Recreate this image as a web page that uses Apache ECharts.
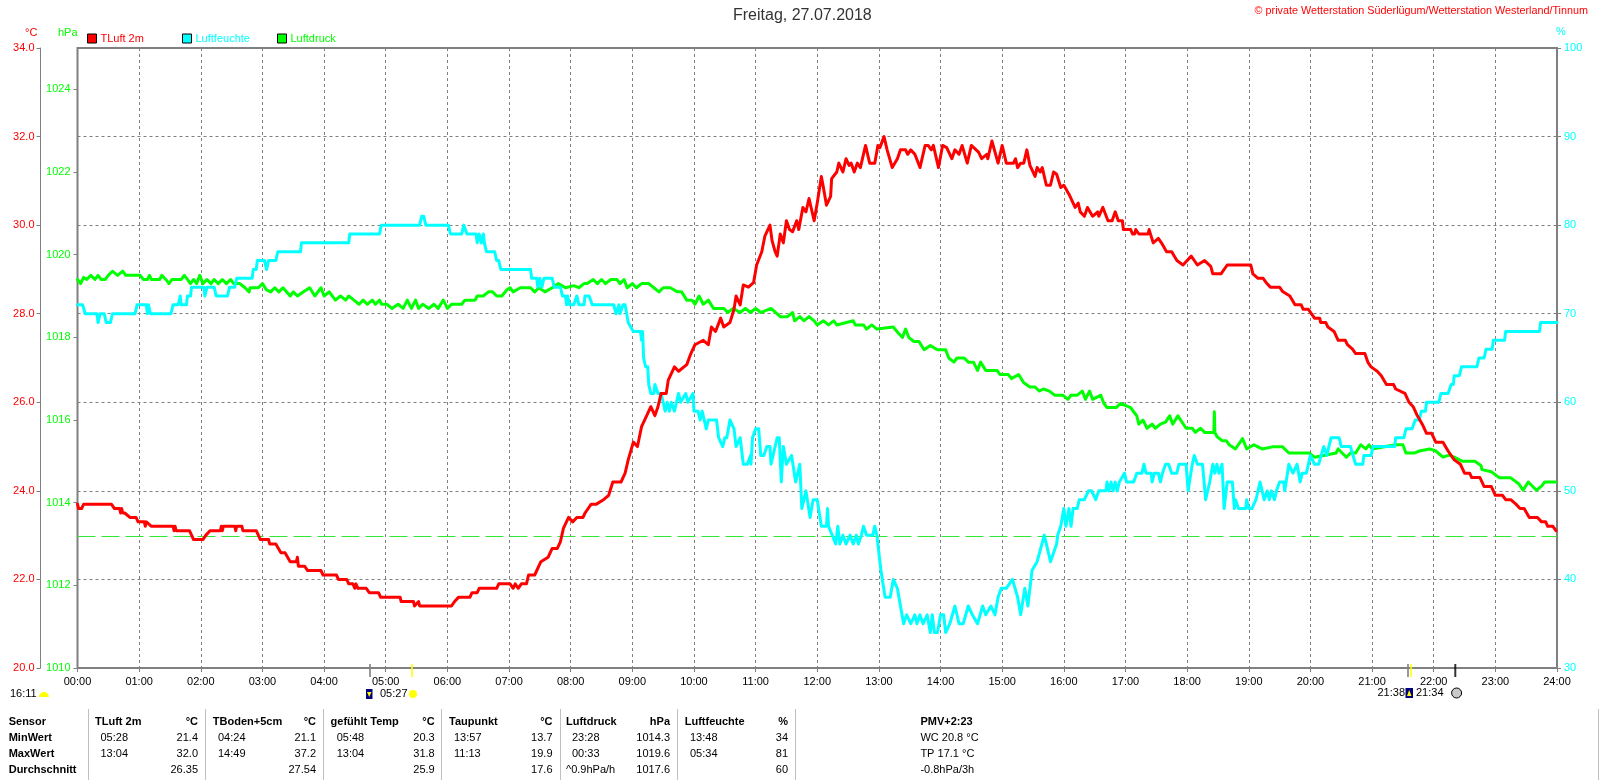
<!DOCTYPE html>
<html><head><meta charset="utf-8">
<style>html,body{margin:0;padding:0;background:#fff}#c{width:1600px;height:780px}</style>
<script src="https://cdn.jsdelivr.net/npm/echarts@6/dist/echarts.min.js"></script>
</head><body><div id="c"></div>
<script>
// [minute of day, value]
const tempPoints = [[0,23.7],[1,23.6],[4,23.6],[6,23.7],[33,23.7],[36,23.6],[41,23.6],[42,23.5],[43,23.6],[44,23.5],[46,23.5],[51,23.4],[57,23.4],[59,23.3],[65,23.3],[66,23.2],[67,23.3],[72,23.2],[93,23.2],[94,23.1],[95,23.2],[96,23.1],[109,23.1],[113,22.9],[122,22.9],[125,23.0],[129,23.1],[139,23.1],[140,23.2],[141,23.1],[142,23.2],[153,23.2],[154,23.1],[155,23.2],[160,23.2],[161,23.1],[174,23.1],[178,22.9],[186,22.9],[187,22.8],[193,22.8],[198,22.6],[202,22.6],[207,22.4],[213,22.4],[214,22.5],[215,22.3],[221,22.3],[224,22.2],[237,22.2],[239,22.1],[252,22.1],[254,22.0],[262,22.0],[264,21.9],[268,21.9],[270,21.8],[271,21.9],[273,21.8],[281,21.8],[284,21.7],[293,21.7],[295,21.6],[314,21.6],[315,21.5],[327,21.5],[328,21.4],[332,21.5],[333,21.4],[364,21.4],[367,21.5],[371,21.6],[382,21.6],[384,21.7],[389,21.7],[391,21.8],[408,21.8],[410,21.9],[421,21.9],[424,21.8],[426,21.9],[429,21.8],[432,21.9],[437,21.9],[439,22.1],[445,22.1],[451,22.4],[458,22.5],[462,22.7],[467,22.7],[470,22.85],[473,23.16],[478,23.4],[482,23.3],[486,23.4],[492,23.4],[494,23.5],[500,23.7],[505,23.7],[512,23.8],[517,23.9],[521,24.2],[529,24.2],[533,24.4],[536,24.7],[541,25.1],[545,25.0],[549,25.45],[554,25.7],[558,25.9],[562,25.7],[565,25.9],[568,26.2],[573,26.2],[575,26.5],[581,26.8],[585,26.7],[593,26.85],[597,27.1],[601,27.3],[609,27.4],[614,27.3],[617,27.7],[621,27.6],[626,27.9],[629,27.7],[635,27.8],[639,28.1],[641,28.4],[645,28.2],[648,28.65],[653,28.6],[658,28.7],[661,29.1],[666,29.4],[669,29.75],[674,30.0],[676,29.65],[679,29.4],[681,29.3],[684,29.8],[687,29.6],[690,30.1],[693,29.9],[696,29.85],[700,30.1],[702,29.9],[706,30.4],[709,30.3],[712,30.6],[717,30.1],[720,30.5],[724,31.1],[726,30.85],[729,30.45],[733,30.65],[734,31.05],[739,31.2],[741,31.4],[745,31.2],[748,31.5],[751,31.35],[753,31.4],[756,31.2],[759,31.4],[762,31.3],[767,31.8],[771,31.4],[776,31.4],[779,31.8],[781,31.75],[785,32.0],[788,31.7],[793,31.3],[798,31.5],[801,31.7],[806,31.7],[808,31.6],[811,31.7],[815,31.6],[820,31.3],[825,31.8],[828,31.8],[831,31.7],[833,31.8],[838,31.3],[842,31.8],[846,31.75],[851,31.5],[854,31.7],[858,31.6],[861,31.8],[866,31.4],[870,31.8],[877,31.65],[880,31.5],[885,31.6],[886,31.5],[890,31.9],[896,31.4],[900,31.8],[904,31.4],[911,31.4],[913,31.5],[915,31.3],[918,31.4],[921,31.4],[924,31.7],[927,31.35],[932,31.1],[934,31.3],[937,31.2],[939,31.3],[943,30.9],[947,30.9],[950,31.2],[953,31.15],[957,30.85],[960,30.9],[965,30.7],[971,30.4],[974,30.5],[976,30.3],[980,30.2],[983,30.4],[988,30.2],[993,30.3],[994,30.2],[998,30.4],[1003,30.1],[1007,30.1],[1010,30.3],[1013,30.1],[1017,30.1],[1018,29.9],[1025,29.9],[1027,29.8],[1029,29.8],[1030,29.9],[1033,29.8],[1042,29.8],[1043,29.9],[1047,29.6],[1052,29.7],[1055,29.6],[1060,29.4],[1065,29.4],[1070,29.2],[1076,29.1],[1084,29.3],[1090,29.1],[1097,29.2],[1103,29.07],[1105,28.9],[1113,28.9],[1119,29.1],[1142,29.1],[1144,28.9],[1149,28.8],[1154,28.8],[1157,28.7],[1161,28.6],[1170,28.6],[1173,28.5],[1180,28.4],[1185,28.2],[1191,28.2],[1193,28.1],[1198,28.1],[1204,27.9],[1209,27.9],[1210,27.8],[1215,27.8],[1217,27.7],[1223,27.6],[1227,27.4],[1234,27.4],[1236,27.3],[1241,27.2],[1244,27.1],[1253,27.1],[1256,26.9],[1259,26.8],[1265,26.7],[1269,26.6],[1274,26.4],[1281,26.4],[1283,26.3],[1292,26.2],[1296,26.0],[1300,25.9],[1304,25.7],[1309,25.5],[1313,25.3],[1318,25.3],[1322,25.1],[1329,25.1],[1334,24.9],[1340,24.7],[1346,24.6],[1350,24.4],[1355,24.4],[1357,24.3],[1365,24.3],[1369,24.1],[1376,24.1],[1380,23.9],[1387,23.9],[1390,23.8],[1395,23.8],[1400,23.7],[1404,23.6],[1408,23.6],[1413,23.4],[1421,23.4],[1425,23.3],[1429,23.3],[1431,23.2],[1436,23.2],[1439,23.1]];
const humidityPoints = [[0,71],[5,71],[7.5,70],[19,70],[20,69],[22,70],[26,70],[28,69],[32,69],[34,70],[56,70],[58,71],[67,71],[68,70],[69,71],[71,70],[91,70],[93,71],[98,71],[100,72],[101,71],[106,71],[107,72],[110,72],[111,73],[123,73],[124,72],[126,73],[133,73],[135,72],[146,72],[148,73],[153,73],[155,74],[170,74],[171,75],[174,75],[175,76],[182,76],[184,75],[186,76],[193,76],[195,77],[217,77],[218,78],[264,78],[265,79],[294,79],[295.6,80],[333,80],[335,81],[337,81],[339,80],[361,80],[363,79],[374,79],[376,80],[379,79],[388,79],[389,78],[391,79],[393,78],[395,79],[396,78],[398,77],[406,77],[408,76],[410,76],[412,75],[441,75],[442,74],[447,74],[448,73],[450,74],[452,73],[454,74],[462,74],[464,73],[470,73],[472,72],[475,72],[476,71],[477,72],[479,71],[483,71],[486,72],[488,71],[493,71],[494,72],[498,72],[501,71],[522,71],[524,70],[527,71],[528,70],[531,71],[533,71],[536,69],[541,68],[548,68],[549,67],[550,68],[551,65],[553,64],[555,64],[556,62],[558,61],[561,61],[562,62],[565,61],[568,61],[570,60],[572,59],[574,60],[576,59],[578,60],[581,59],[583,60],[585,61],[587,60],[592,61],[594,60],[599,61],[600,59],[604,59],[606,58],[608,59],[610,58],[612,57],[614,58],[622,58],[624,56],[628,55],[630,56],[632,56],[635,58],[639,57],[641,55],[645,56],[648,53],[652,53],[655,54],[655.5,53],[657,56],[660,57],[663,57],[665,54],[668,54],[671,55],[674,55],[675,53],[677,54],[681,56],[683,56],[685,51],[687,55],[690,53],[695,54],[699,51],[703,53],[705,48],[709,50],[713,47],[716,49],[720,49],[724,46],[729,46],[730,48],[731,46],[738,44],[740,46],[742,44],[745,45],[748,44],[752,45],[755,44],[758,45],[760,44],[763,45],[765,46],[768,45],[774,45],[776,46],[778,45],[780,43],[782,41],[786,38],[791,38],[794,40],[798,39],[801,37],[804,35],[807,36],[811,35],[815,36],[817,35],[820,36],[823,35],[827,36],[830,34],[832,36],[834,34],[837,34],[840,36],[843,36],[845,34],[849,35],[854,37],[858,35],[862,35],[867,37],[871,36],[876,35],[881,37],[884,36],[889,37],[893,36],[896,38],[899,39],[904,39],[910,40],[915,38],[918,36],[922,39],[925,37],[929,41],[934,42],[941,45],[947,42],[953,44],[954,45],[957,46],[960,48],[962,46],[965,48],[967,46],[969,48],[973,48],[975,49],[980,49],[984,50],[987,50],[991,49],[994,50],[1001,50],[1002,51],[1004,50],[1006,51],[1008,50],[1010,51],[1012,50],[1014,51],[1019,52],[1021,51],[1028,51],[1031,52],[1036,52],[1038,53],[1040,52],[1045,52],[1046,51],[1048,52],[1052,52],[1054,51],[1056,52],[1059,53],[1062,53],[1065,52],[1070,52],[1072,53],[1079,53],[1081,50],[1085,53],[1087,54],[1090,53],[1095,53],[1098,49],[1102,51],[1105,53],[1107,52],[1109,53],[1111,52],[1114,53],[1116,48],[1119,51],[1124,51],[1126,48],[1127,49],[1130,48],[1137,48],[1138,49],[1140,48],[1143,48],[1147,49],[1151,51],[1155,49],[1158,50],[1160,49],[1162,50],[1165,49],[1167,50],[1170,51],[1174,51],[1175,50],[1179,53],[1183,52],[1187,53],[1190,51],[1192,52],[1196,52],[1200,54],[1204,53],[1208,53],[1213,55],[1216,54],[1220,56],[1228,56],[1230,55],[1239,55],[1244,53],[1251,53],[1252,54],[1259,54],[1261,55],[1282,55],[1283,56],[1291,56],[1293,57],[1299,57],[1302,58],[1306,58],[1308,59],[1312,59],[1313,60],[1325,60],[1327,61],[1334,61],[1337,62],[1339,62],[1340,63],[1345,63],[1347,64],[1362,64],[1364,65],[1369,65],[1371,66],[1377,66],[1378,67],[1389,67],[1390,68],[1423,68],[1424,69],[1440,69]];
const pressurePoints = [[0,1019.4],[3,1019.3],[6,1019.45],[9,1019.4],[13,1019.5],[17,1019.4],[20,1019.5],[23,1019.4],[27,1019.4],[30,1019.5],[34,1019.6],[39,1019.5],[44,1019.6],[47,1019.5],[61,1019.5],[64,1019.4],[68,1019.4],[70,1019.5],[72,1019.4],[80,1019.4],[82,1019.5],[86,1019.4],[89,1019.3],[92,1019.4],[101,1019.4],[104,1019.5],[107,1019.4],[110,1019.3],[113,1019.4],[116,1019.3],[119,1019.5],[122,1019.3],[126,1019.4],[130,1019.3],[133,1019.4],[137,1019.3],[141,1019.4],[145,1019.3],[149,1019.4],[152,1019.3],[158,1019.3],[163,1019.2],[167,1019.1],[168,1019.2],[176,1019.2],[180,1019.3],[184,1019.15],[188,1019.1],[192,1019.2],[196,1019.1],[200,1019.2],[207,1019.0],[210,1019.1],[214,1019.0],[220,1019.1],[226,1019.2],[231,1019.0],[237,1019.2],[240,1019.0],[245,1019.1],[251,1018.9],[256,1019.0],[261,1018.9],[264,1019.0],[269,1018.9],[274,1018.8],[278,1018.9],[282,1018.8],[287,1018.9],[290,1018.8],[294,1018.9],[296,1018.8],[301,1018.8],[306,1018.7],[312,1018.8],[317,1018.7],[321,1018.9],[325,1018.7],[329,1018.9],[332,1018.7],[336,1018.8],[342,1018.7],[347,1018.8],[351,1018.7],[356,1018.9],[360,1018.7],[364,1018.8],[374,1018.8],[377,1018.9],[387,1018.9],[389,1019.0],[395,1019.0],[400,1019.1],[404,1019.1],[408,1019.0],[413,1019.0],[418,1019.15],[421,1019.2],[424,1019.1],[431,1019.2],[441,1019.2],[445,1019.1],[449,1019.2],[455,1019.1],[462,1019.2],[468,1019.3],[475,1019.2],[483,1019.25],[488,1019.2],[493,1019.3],[496,1019.3],[502,1019.4],[506,1019.3],[510,1019.4],[514,1019.3],[519,1019.4],[525,1019.4],[528,1019.3],[532,1019.4],[535,1019.2],[540,1019.3],[544,1019.2],[549,1019.3],[556,1019.3],[561,1019.2],[566,1019.1],[570,1019.2],[577,1019.2],[584,1019.1],[588,1019.1],[593,1018.9],[598,1018.9],[601,1018.8],[605,1019.0],[609,1018.8],[614,1018.9],[619,1018.7],[629,1018.7],[633,1018.6],[638,1018.7],[645,1018.6],[650,1018.7],[655,1018.6],[660,1018.7],[665,1018.6],[675,1018.7],[684,1018.5],[691,1018.5],[696,1018.6],[698,1018.4],[703,1018.5],[707,1018.4],[712,1018.5],[717,1018.4],[720,1018.3],[726,1018.4],[731,1018.3],[736,1018.4],[739,1018.3],[755,1018.4],[757,1018.3],[765,1018.3],[768,1018.2],[773,1018.3],[778,1018.2],[794,1018.25],[799,1018.1],[803,1018.0],[806,1018.2],[809,1018.0],[814,1017.9],[819,1017.9],[824,1017.7],[830,1017.8],[837,1017.7],[845,1017.7],[848,1017.5],[853,1017.4],[856,1017.5],[863,1017.5],[867,1017.4],[872,1017.4],[876,1017.2],[879,1017.4],[884,1017.2],[895,1017.2],[898,1017.1],[906,1017.1],[909,1017.0],[916,1017.1],[921,1016.9],[927,1016.8],[932,1016.8],[936,1016.7],[940,1016.75],[946,1016.7],[951,1016.6],[959,1016.6],[964,1016.5],[967,1016.6],[973,1016.6],[978,1016.7],[981,1016.5],[985,1016.7],[988,1016.5],[996,1016.6],[999,1016.4],[1002,1016.3],[1011,1016.3],[1015,1016.4],[1025,1016.3],[1028,1016.2],[1031,1016.1],[1033,1015.9],[1037,1016.0],[1041,1015.8],[1046,1015.9],[1049,1015.8],[1054,1015.9],[1059,1015.95],[1063,1016.1],[1066,1015.9],[1071,1016.1],[1079,1015.8],[1085,1015.8],[1088,1015.7],[1093,1015.8],[1097,1015.7],[1106,1015.7],[1106.5,1016.2],[1107,1015.7],[1109,1015.6],[1114,1015.5],[1118,1015.5],[1121,1015.4],[1127,1015.3],[1134,1015.55],[1138,1015.3],[1145,1015.4],[1153,1015.3],[1163,1015.35],[1173,1015.35],[1179,1015.2],[1184,1015.2],[1199,1015.2],[1204,1015.1],[1225,1015.2],[1227,1015.3],[1235,1015.1],[1239,1015.2],[1244,1015.2],[1249,1015.4],[1254,1015.3],[1257,1015.4],[1260,1015.3],[1283,1015.4],[1290,1015.4],[1293,1015.2],[1301,1015.2],[1306,1015.25],[1316,1015.3],[1322,1015.25],[1329,1015.1],[1335,1015.15],[1340,1015.1],[1348,1015.0],[1360,1015.0],[1366,1014.9],[1367,1014.8],[1376,1014.75],[1384,1014.6],[1395,1014.6],[1403,1014.45],[1407,1014.3],[1412,1014.5],[1420,1014.3],[1425,1014.4],[1428,1014.5],[1439,1014.5]];
const referenceLine = [[0,22.97],[1440,22.97]];
const eventTimes = [284.7,325.6,1295,1298,1341];
const eventColors = ['#808080','#ffff00','#808080','#ffff00','#000000'];
const pressureTicks = [1010,1012,1014,1016,1018,1020,1022,1024];
const tableHeaders = ['TLuft 2m','TBoden+5cm','gefühlt Temp','Taupunkt','Luftdruck','Luftfeuchte'];
const tableUnits = ['°C','°C','°C','°C','hPa','%'];
const minTimes = ['05:28','04:24','05:48','13:57','23:28','13:48'];
const minValues = ['21.4','21.1','20.3','13.7','1014.3','34'];
const maxTimes = ['13:04','14:49','13:04','11:13','00:33','05:34'];
const maxValues = ['32.0','37.2','31.8','19.9','1019.6','81'];
const avgValues = ['26.35','27.54','25.9','17.6','1017.6','60'];
const rowLabels = ['Sensor','MinWert','MaxWert','Durchschnitt'];
const sideNotes = ['PMV+2:23','WC 20.8 °C','TP 17.1 °C','-0.8hPa/3h'];

const FONT = '"Liberation Sans", Arial, sans-serif';
const G = {l:77.5, r:1557, t:48, b:668};
const colText=[95,212.8,330.6,449,566,684.7], colRight=[198,316,434.7,552.5,670,788], colTime=[100.5,218,336.7,454,572,690];
const rowY=[722,738,754,770];
const gfx=[];
const txt=(x,y,s,o={})=>gfx.push({type:'text',silent:true,x,y,style:{text:s,fill:o.c||'#000',font:`${o.b?'bold ':''}${o.s||11}px ${FONT}`,textAlign:o.a||'left',textVerticalAlign:'middle'},z:10});
rowLabels.forEach((s,i)=>txt(8.7,rowY[i],s,{b:1}));
tableHeaders.forEach((s,i)=>{
  txt(colText[i],rowY[0],s,{b:1}); txt(colRight[i],rowY[0],tableUnits[i],{b:1,a:'right'});
  txt(colTime[i],rowY[1],minTimes[i]); txt(colRight[i],rowY[1],minValues[i],{a:'right'});
  txt(colTime[i],rowY[2],maxTimes[i]); txt(colRight[i],rowY[2],maxValues[i],{a:'right'});
  txt(colRight[i],rowY[3],avgValues[i],{a:'right'});
});
txt(colText[4],rowY[3],'^0.9hPa/h');
sideNotes.forEach((s,i)=>txt(920.4,rowY[i],s,{b:i===0}));
[88.5,205.5,323.5,441.5,560.5,677.5,795.5].forEach(x=>gfx.push({type:'line',silent:true,shape:{x1:x,y1:709,x2:x,y2:780},style:{stroke:'#c0c0c0',lineWidth:1}}));
gfx.push({type:'line',silent:true,shape:{x1:1598.5,y1:709,x2:1598.5,y2:780},style:{stroke:'#c0c0c0',lineWidth:1}});
txt(25,33,'°C',{c:'#ff0000'}); txt(58,33,'hPa',{c:'#00ff00'}); txt(1561,32,'%',{c:'#00ffff',a:'center'});
txt(1588,11,'© private Wetterstation Süderlügum/Wetterstation Westerland/Tinnum',{c:'#ff0000',a:'right',s:10.8});
txt(10,694,'16:11'); txt(380,694,'05:27'); txt(1377.5,693,'21:38'); txt(1416,693,'21:34');
gfx.push({type:'sector',silent:true,shape:{cx:44,cy:697,r:5,r0:0,startAngle:Math.PI,endAngle:2*Math.PI},style:{fill:'#ffff00'}});
gfx.push({type:'circle',silent:true,shape:{cx:413,cy:694,r:4},style:{fill:'#ffff00'}});
gfx.push({type:'rect',silent:true,shape:{x:366,y:689,width:6.5,height:10},style:{fill:'#000080'}});
gfx.push({type:'polygon',silent:true,shape:{points:[[367,692],[371.5,692],[369.2,697]]},style:{fill:'#ffff00'}});
gfx.push({type:'rect',silent:true,shape:{x:1405.5,y:688,width:7.5,height:10},style:{fill:'#000080'}});
gfx.push({type:'polygon',silent:true,shape:{points:[[1409.2,690],[1411.5,696],[1407,696]]},style:{fill:'#ffff00'}});
gfx.push({type:'circle',silent:true,shape:{cx:1456.6,cy:693,r:5},style:{fill:'#c8c8c8',stroke:'#000',lineWidth:1}});

const legendItem=(name,left,color)=>({left,top:33,itemWidth:9,itemHeight:9,itemGap:0,padding:0,selectedMode:false,
  icon:'rect',itemStyle:{borderColor:'#000',borderWidth:1},
  data:[{name,textStyle:{color,fontFamily:FONT,fontSize:11,padding:[0,0,0,-1]}}]});
const line=(name,data,color,yAxisIndex,z)=>({name,type:'line',data,yAxisIndex,z,showSymbol:false,animation:false,smooth:false,silent:true,
  itemStyle:{color},lineStyle:{color,width:3,join:'round',cap:'round'}});
const ticks={show:true,length:4,lineStyle:{color:'#808080',width:1}};
const minuteLabel=v=>{const h=Math.round(v/60);return (h<10?'0':'')+h+':00';};

const chart=echarts.init(document.getElementById('c'),null,{renderer:'canvas'});
chart.setOption({
  animation:false,backgroundColor:'#fff',
  title:{text:'Freitag, 27.07.2018',left:733,top:8,padding:0,textStyle:{fontFamily:FONT,fontSize:16,fontWeight:'normal',color:'#333'}},
  legend:[legendItem('TLuft 2m',87,'#ff0000'),legendItem('Luftfeuchte',182,'#00ffff'),legendItem('Luftdruck',277,'#00ff00')],
  grid:{left:G.l,right:1600-G.r,top:G.t,bottom:780-G.b,show:true,borderColor:'#808080',borderWidth:2,backgroundColor:'#fff'},
  xAxis:{type:'value',min:0,max:1440,interval:60,
    axisLine:{show:false},axisTick:ticks,
    axisLabel:{formatter:minuteLabel,margin:8,fontFamily:FONT,fontSize:11,color:'#000',showMinLabel:true,showMaxLabel:true},
    splitLine:{show:true,lineStyle:{color:'#808080',type:[3,3],width:1}}},
  yAxis:[
    {type:'value',position:'left',offset:37,min:20,max:34,interval:2,
     axisLine:{show:true,onZero:false,lineStyle:{color:'#808080',width:1}},axisTick:ticks,
     axisLabel:{formatter:v=>v.toFixed(1),margin:6,fontFamily:FONT,fontSize:11,color:'#ff0000'},
     splitLine:{show:true,lineStyle:{color:'#808080',type:[3,3],width:1}}},
    {type:'value',position:'left',offset:0,min:1010,max:1025,interval:2,
     axisLine:{show:false,onZero:false},axisTick:{...ticks,customValues:pressureTicks},
     axisLabel:{customValues:pressureTicks,formatter:v=>String(v),margin:7,fontFamily:FONT,fontSize:11,color:'#00ff00'},
     splitLine:{show:false}},
    {type:'value',position:'right',min:30,max:100,interval:10,
     axisLine:{show:false,onZero:false},axisTick:ticks,
     axisLabel:{margin:7,fontFamily:FONT,fontSize:11,color:'#00ffff'},
     splitLine:{show:false}}
  ],
  series:[
    {name:'Referenz',type:'line',data:referenceLine,yAxisIndex:0,z:2,showSymbol:false,silent:true,lineStyle:{color:'#2ee62e',width:1,type:[18,6]}},
    line('Luftdruck',pressurePoints,'#00ff00',1,3),
    line('Luftfeuchte',humidityPoints,'#00ffff',2,4),
    line('TLuft 2m',tempPoints,'#ff0000',0,5),
    {name:'Ereignisse',type:'scatter',yAxisIndex:0,z:6,clip:false,silent:true,symbol:'rect',symbolSize:[2,13],symbolOffset:[0,2.5],
     data:eventTimes.map((t,i)=>({value:[t,20],itemStyle:{color:eventColors[i]}}))}
  ],
  graphic:{elements:gfx}
});
</script></body></html>
